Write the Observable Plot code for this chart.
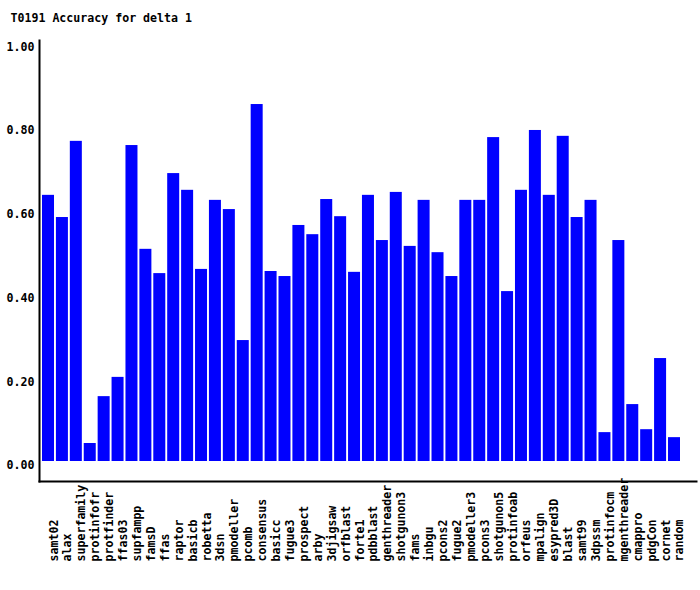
<!DOCTYPE html>
<html>
<head>
<meta charset="utf-8">
<script src="https://cdn.jsdelivr.net/npm/d3@7"></script>
<script src="https://cdn.jsdelivr.net/npm/@observablehq/plot@0.6"></script>
<style>
  html, body { margin: 0; padding: 0; background: #ffffff; }
  #chart svg { display: block; }
</style>
</head>
<body>
<div id="chart"></div>
<script>
const title = "T0191 Accuracy for delta 1";

const methods = [
  "samt02", "alax", "superfamily", "protinfofr", "protfinder", "ffas03",
  "supfampp", "famsD", "ffas", "raptor", "basicb", "robetta", "3dsn",
  "pmodeller", "pcomb", "consensus", "basicc", "fugue3", "prospect", "arby",
  "3djigsaw", "orfblast", "forte1", "pdbblast", "genthreader", "shotgunon3",
  "fams", "inbgu", "pcons2", "fugue2", "pmodeller3", "pcons3", "shotgunon5",
  "protinfoab", "orfeus", "mpalign", "esypred3D", "blast", "samt99", "3dpssm",
  "protinfocm", "mgenthreader", "cmappro", "pdgCon", "cornet", "random"
];

const accuracy = [
  0.636, 0.583, 0.765, 0.043, 0.155, 0.201,
  0.755, 0.507, 0.449, 0.688, 0.648, 0.459, 0.624,
  0.602, 0.289, 0.853, 0.454, 0.442, 0.564, 0.542,
  0.626, 0.585, 0.452, 0.636, 0.528, 0.643,
  0.514, 0.624, 0.499, 0.442, 0.624, 0.624, 0.774,
  0.406, 0.648, 0.791, 0.636, 0.777, 0.583, 0.624,
  0.069, 0.528, 0.136, 0.076, 0.246, 0.057
];

const yTicks = [0, 0.2, 0.4, 0.6, 0.8, 1.0];

const data = methods.map((m, i) => ({method: m, value: accuracy[i]}));

const chart = Plot.plot({
  width: 700,
  height: 590,
  marginLeft: 39,
  marginRight: 4,
  marginTop: 40,
  marginBottom: 109,
  style: {
    fontFamily: "'DejaVu Sans Mono', monospace",
    fontSize: "11.6px",
    fontWeight: "bold",
    background: "#ffffff",
    color: "#000000"
  },
  x: {
    type: "band",
    domain: methods,
    paddingInner: 0.137,
    paddingOuter: 0.683,
    align: 0.158,
    axis: null
  },
  y: {
    domain: [-0.0478, 1.006],
    axis: null
  },
  marks: [
    Plot.barY(data, {x: "method", y: "value", fill: "#0000ff"}),
    Plot.axisY({
      ticks: yTicks,
      tickFormat: d3.format(".2f"),
      tickSize: 0,
      tickPadding: 5,
      dy: 4,
      label: null,
      fill: "#000000"
    }),
    Plot.frame({anchor: "left", stroke: "#000000", strokeWidth: 2}),
    Plot.frame({anchor: "bottom", stroke: "#000000", strokeWidth: 2}),
    Plot.text(methods, {
      x: d => d,
      frameAnchor: "bottom",
      rotate: -90,
      textAnchor: "start",
      dy: 80,
      dx: 9,
      fill: "#000000"
    }),
    Plot.text([title], {
      frameAnchor: "top-left",
      textAnchor: "start",
      lineAnchor: "bottom",
      dx: -29,
      dy: -19,
      fill: "#000000"
    })
  ]
});

document.getElementById("chart").appendChild(chart);
</script>
</body>
</html>
